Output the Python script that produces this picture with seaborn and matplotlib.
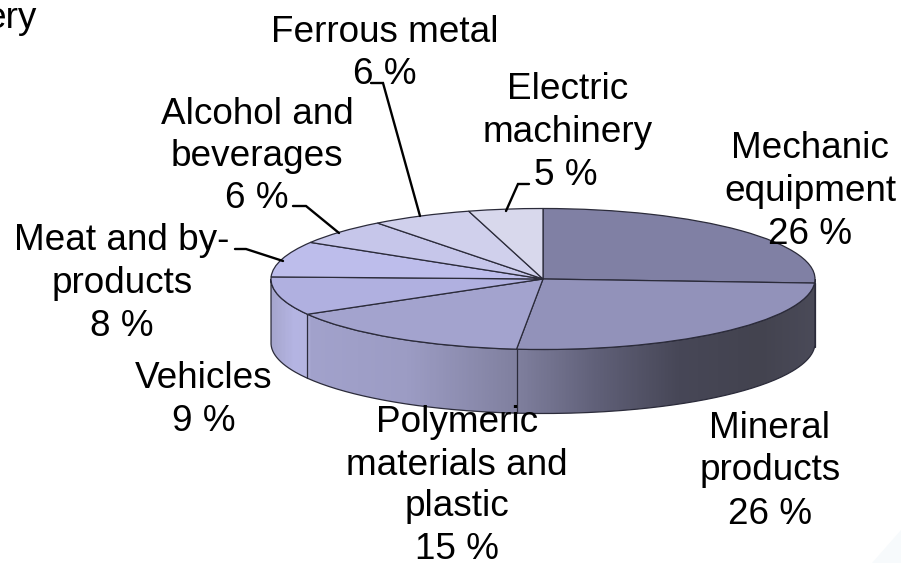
import numpy as np
import matplotlib
matplotlib.use("Agg")
import matplotlib.pyplot as plt
from matplotlib.colors import LinearSegmentedColormap
from matplotlib.patches import PathPatch
from matplotlib.path import Path
import seaborn as sns

categories = ["Mechanic\nequipment", "Mineral\nproducts", "Polymeric\nmaterials and\nplastic",
              "Vehicles", "Meat and by-\nproducts", "Alcohol and\nbeverages",
              "Ferrous metal", "Electric\nmachinery"]
percent_labels = ["26 %", "26 %", "15 %", "9 %", "8 %", "6 %", "6 %", "5 %"]
# slice sizes as read from the drawn wedges
shares = [25.9, 25.6, 15.1, 8.8, 8.2, 5.9, 6.0, 4.4]

sns.set_theme(style="white")
plt.rcParams["font.family"] = ["Liberation Sans", "DejaVu Sans"]

W, H = 901, 563
cx, cy, rx, ry, depth = 543, 279, 272, 70.5, 64
line_col = "#2b2b3a"
FS = 26.6

fig = plt.figure(figsize=(W / 100, H / 100), dpi=100)
ax = fig.add_axes([0, 0, 1, 1])

top_cols = sns.blend_palette(["#8080A4", "#9292BA", "#A3A3CE", "#B0B0E0", "#BDBDEB",
                              "#C6C6EA", "#D0D0EC", "#D8D8EC"], n_colors=8)
ax.pie(shares, startangle=90, counterclock=False, colors=top_cols, radius=1,
       wedgeprops=dict(edgecolor=line_col, linewidth=0.9, zorder=3))
ax.set_aspect("auto")

# side wall
d = depth / ry
t = np.linspace(0, np.pi, 200)
xs = np.cos(t)
ys = -np.sin(t)
verts = np.r_[np.c_[xs, ys], np.c_[xs[::-1], ys[::-1] - d], [[xs[0], ys[0]]]]
wall = PathPatch(Path(verts), facecolor="none", edgecolor=line_col, linewidth=0.9, zorder=2)
ax.add_patch(wall)

stops = [(0.0, "#A6A6CE"), (0.04, "#B5B5E3"), (0.066, "#B4B4E0"), (0.067, "#A2A2CC"),
         (0.25, "#9C9CC4"), (0.45, "#80809F"), (0.6, "#606078"), (0.75, "#474757"),
         (0.9, "#43434F"), (1.0, "#4A4A58")]
wall_cmap = LinearSegmentedColormap.from_list("wall", stops)
im = ax.imshow(np.linspace(0, 1, 400)[None, :], cmap=wall_cmap, aspect="auto",
               extent=(-1, 1, -1 - d, 0.2), zorder=1, interpolation="bilinear")
im.set_clip_path(wall)
ax.set_xlim(-cx / rx, (W - cx) / rx)
ax.set_ylim((cy - H) / ry, cy / ry)

ends = np.cumsum(shares) / np.sum(shares) * 2 * np.pi
for a in ends:
    if np.cos(a) < 0:
        ax.plot([np.sin(a)] * 2, [np.cos(a), np.cos(a) - d], color=line_col, lw=0.9, zorder=2.5)

# labels and leaders in pixel coordinates
ov = fig.add_axes([0, 0, 1, 1], zorder=5)
ov.set_xlim(0, W)
ov.set_ylim(H, 0)
ov.axis("off")
ov.patch.set_alpha(0)

leaders = [[(371, 83), (383, 83), (420, 216)],
           [(529, 184), (518, 184), (506, 211)],
           [(293, 206), (306, 206), (339, 233)],
           [(235, 249), (246, 249), (283, 261)]]
for pts in leaders:
    ov.plot(*zip(*pts), color="black", lw=1.7, solid_joinstyle="miter")

# faint smudge in the corner of the source image
ov.fill([901, 901, 872], [530, 563, 563], color="#F7FAFC", lw=0)

# one row per label: x of each line, baseline of each line
placement = [([810, 810, 810], [158, 201, 244]),
             ([770, 770, 770], [438, 480, 524]),
             ([457, 457, 457, 457], [432, 475, 516, 559]),
             ([204, 204], [388, 431]),
             ([122, 122, 122], [250, 293, 336]),
             ([257, 257, 257], [124, 166, 208]),
             ([385, 385], [42, 84]),
             ([568, 568, 566], [99, 142, 185])]
for cat, pct, (px, py) in zip(categories, percent_labels, placement):
    for s, x, y in zip(cat.split("\n") + [pct], px, py):
        ov.text(x, y, s, ha="center", va="baseline", fontsize=FS, color="black")
ov.text(37, 28, "ery", ha="right", va="baseline", fontsize=FS, color="black")

fig.savefig("out.png", dpi=100)
